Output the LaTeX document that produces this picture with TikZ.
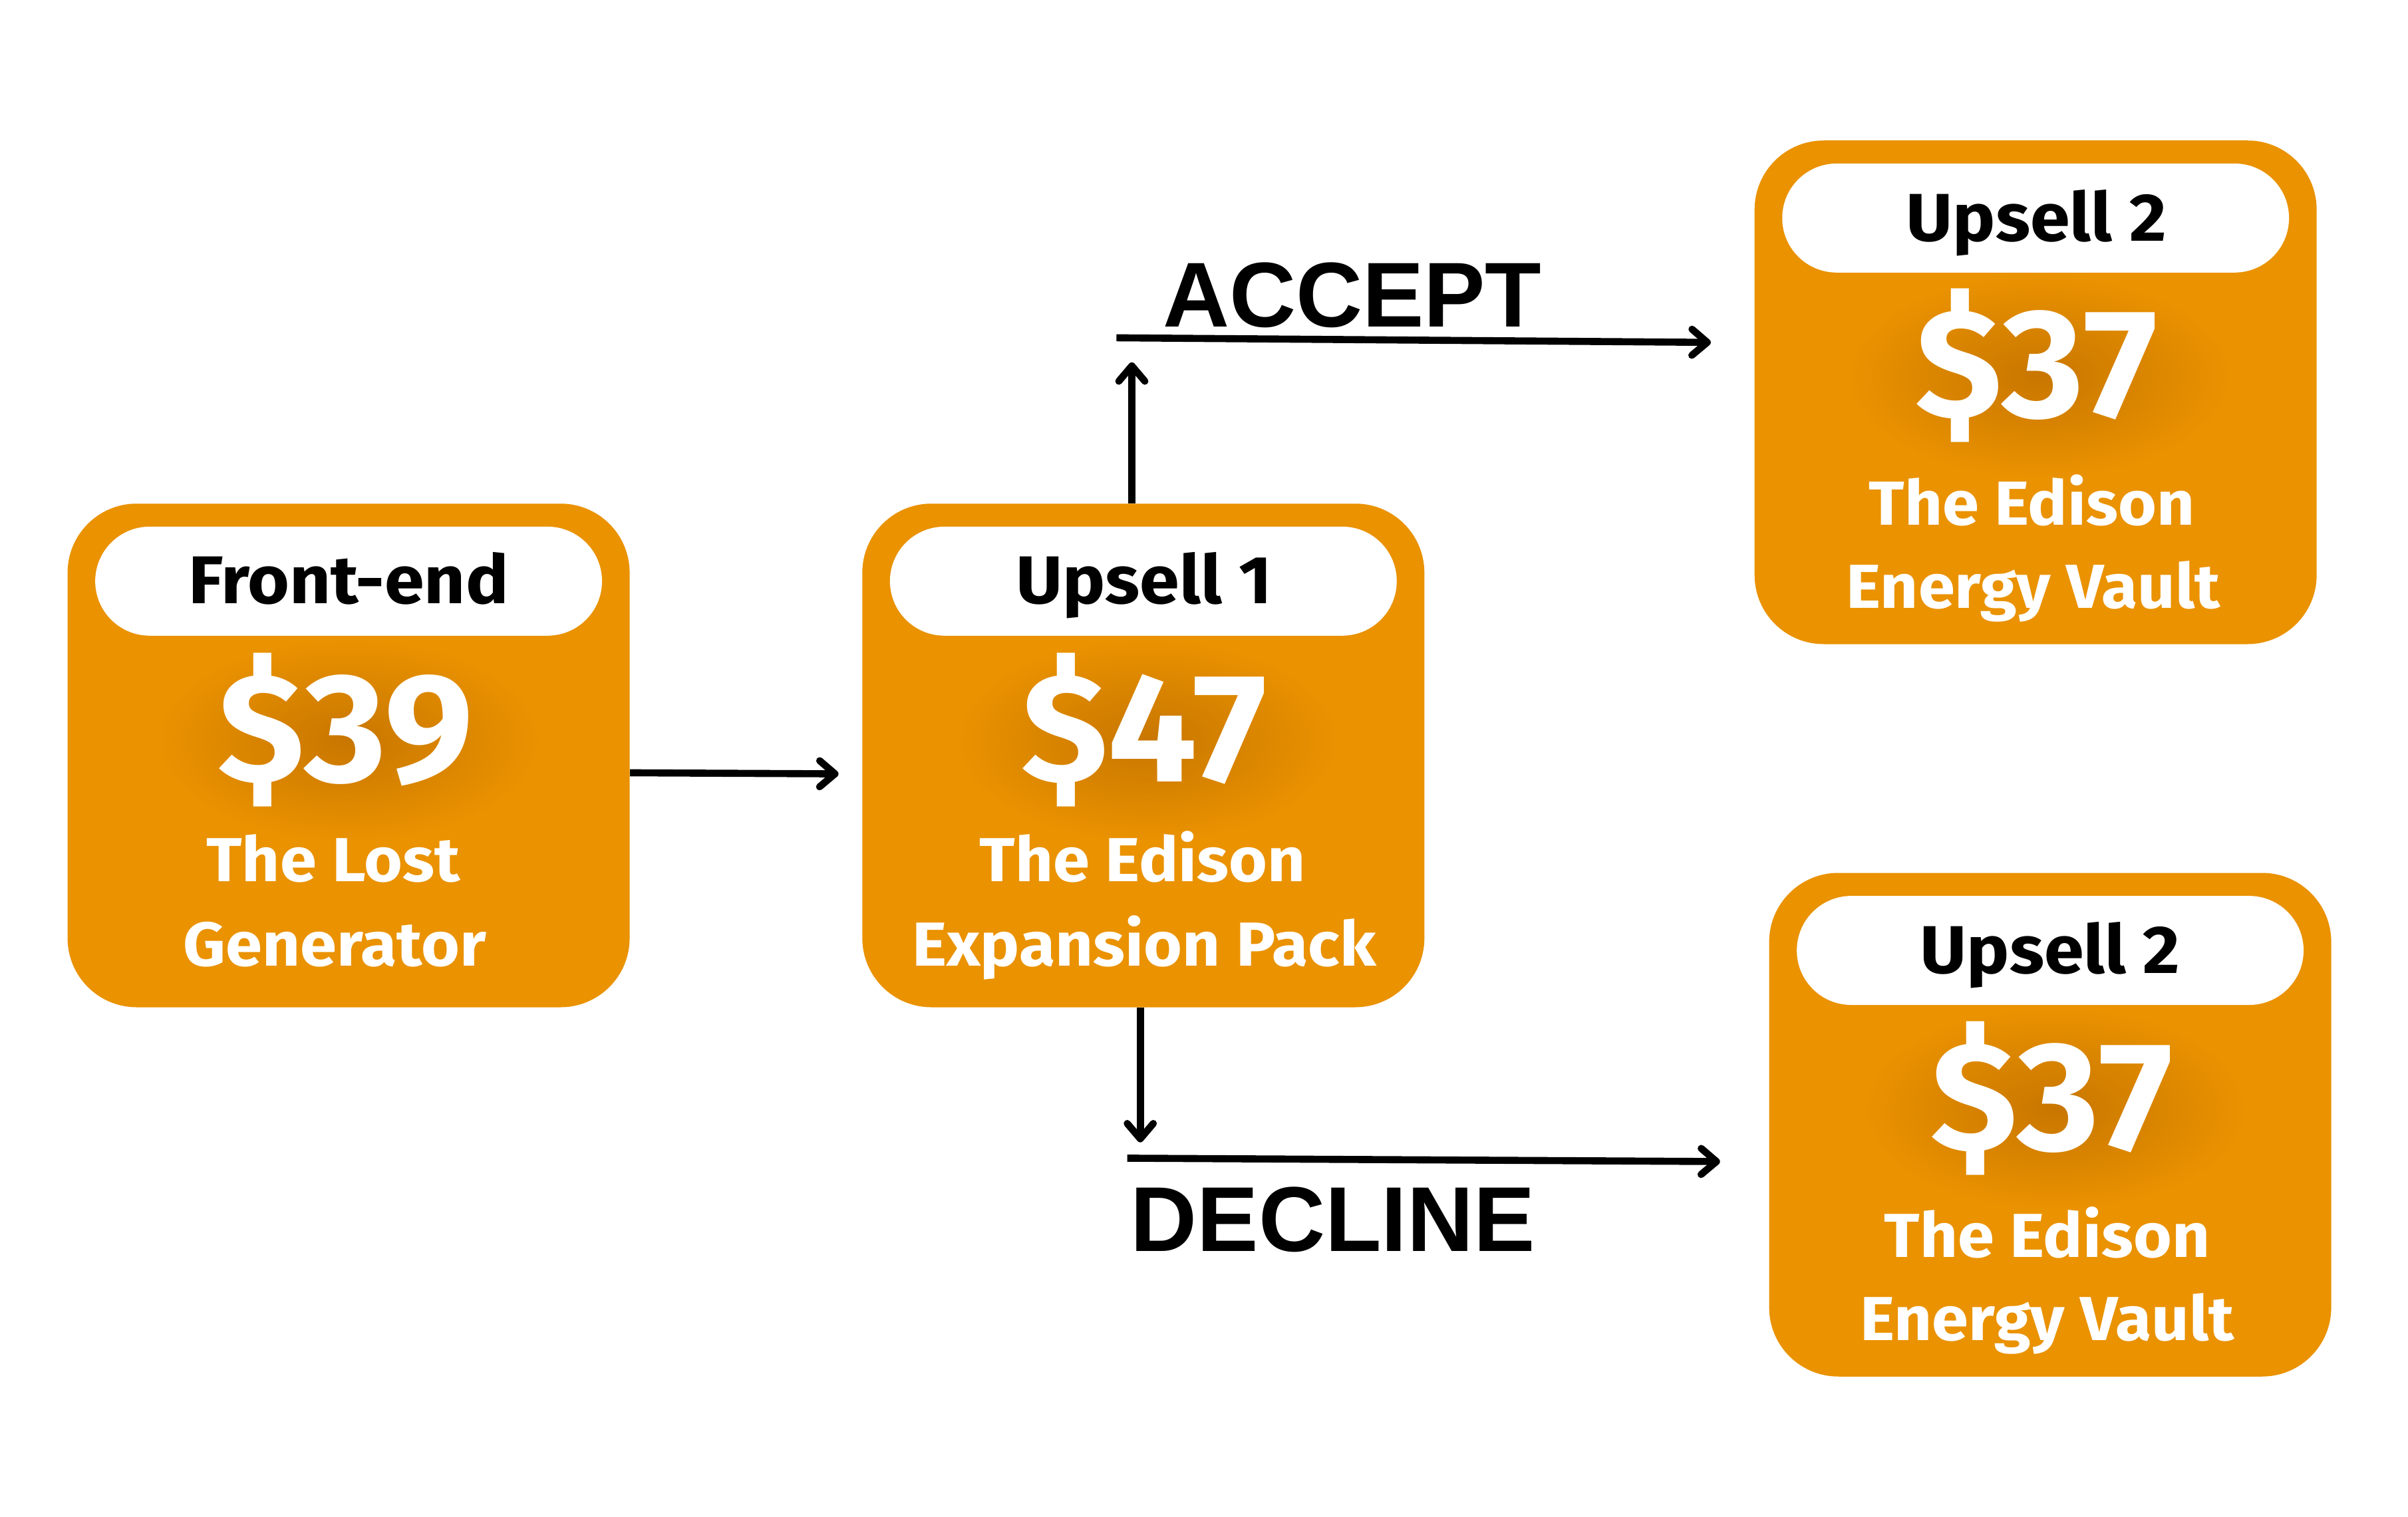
\documentclass[tikz,border=0pt]{standalone}
\usepackage{fontspec}
\setmainfont{Fira Sans}[FakeStretch=1.06]
\newfontfamily\labfont{Liberation Sans}
\usetikzlibrary{arrows.meta}
\definecolor{cardorange}{RGB}{234,146,0}
\definecolor{shadowA}{RGB}{200,118,0}
\begin{document}
\begin{tikzpicture}[x=1pt,y=-1pt,
  card/.style={fill=cardorange, rounded corners=45pt, minimum width=366pt, minimum height=328pt, inner sep=0pt},
  pill/.style={fill=white, rounded corners=35.5pt, minimum width=330pt, minimum height=71pt, inner sep=0pt},
  lab/.style={anchor=base, inner sep=0pt, font=\fontsize{44}{50}\selectfont\bfseries, text=black},
  price/.style={anchor=base, inner sep=0pt, font=\fontsize{101}{110}\selectfont\bfseries\addfontfeature{FakeStretch=1.02}, text=white},
  glow/.style={inner color=shadowA, outer color=cardorange},
  sub/.style={anchor=base, inner sep=0pt, font=\fontsize{40.5}{46}\selectfont\bfseries, text=white},
  big/.style={anchor=base west, inner sep=0pt, font=\fontsize{60}{66}\selectfont\labfont\bfseries, text=black},
  conn/.style={line width=4.6pt, -{Straight Barb[length=10pt,width=17pt,line cap=round,line join=round]}}
]
\path[use as bounding box, fill=white] (0,0) rectangle (1568,988);

% ---------- card 1 : Front-end ----------
\node[card] (c1) at (227,492) {};
\shade[glow] (227,482) ellipse [x radius=125, y radius=66];
\node[pill] (c1p) at (227,378.5) {};
\node[lab] (c1l) at (227,393) {Front-end};
\node[price] (c1v) at (225,509) {\$39};
\node[sub] (c1a) at (217,574) {The Lost};
\node[sub] (c1b) at (218,629) {Generator};

% ---------- card 2 : Upsell 1 ----------
\node[card] (c2) at (744.5,492) {};
\shade[glow] (747,482) ellipse [x radius=125, y radius=66];
\node[pill] (c2p) at (744.5,378.5) {};
\node[lab] (c2l) at (745,393) {Upsell 1};
\node[price] (c2v) at (745,509) {\$47};
\node[sub] (c2a) at (744,574) {The Edison};
\node[sub] (c2b) at (745,629) {Expansion Pack};

% ---------- card 3 : Upsell 2 (accept) ----------
\node[card] (c3) at (1325.5,255.5) {};
\shade[glow] (1328,245) ellipse [x radius=125, y radius=66];
\node[pill] (c3p) at (1325.5,142) {};
\node[lab] (c3l) at (1326,157) {Upsell 2};
\node[price] (c3v) at (1326,272) {\$37};
\node[sub] (c3a) at (1323,342) {The Edison};
\node[sub] (c3b) at (1324,396) {Energy Vault};

% ---------- card 4 : Upsell 2 (decline) ----------
\node[card] (c4) at (1335,732.5) {};
\shade[glow] (1338,722) ellipse [x radius=125, y radius=66];
\node[pill] (c4p) at (1335,619) {};
\node[lab] (c4l) at (1335,634) {Upsell 2};
\node[price] (c4v) at (1336,749) {\$37};
\node[sub] (c4a) at (1333,819) {The Edison};
\node[sub] (c4b) at (1333,873) {Energy Vault};

% ---------- labels ----------
\node[big] (acc) at (757,213) {ACCEPT};
\node[big] (dec) at (736,815) {DECLINE};

% ---------- connectors ----------
\coordinate (c1out) at (c1.east |- 0,503.3);
\coordinate (c2in) at (546,504);
\draw[conn] (c1out) -- (c2in);

\coordinate (upstart) at (737,328);
\coordinate (uptip) at (737,236);
\draw[conn] (upstart) -- (uptip);
\coordinate (accA) at (727,220);
\coordinate (accB) at (1114,223);
\draw[conn] (accA) -- (accB);

\coordinate (dnstart) at (742.5,656);
\coordinate (dntip) at (742.5,744);
\draw[conn] (dnstart) -- (dntip);
\coordinate (decA) at (734,754.3);
\coordinate (decB) at (1120,756.5);
\draw[conn] (decA) -- (decB);
\end{tikzpicture}
\end{document}
